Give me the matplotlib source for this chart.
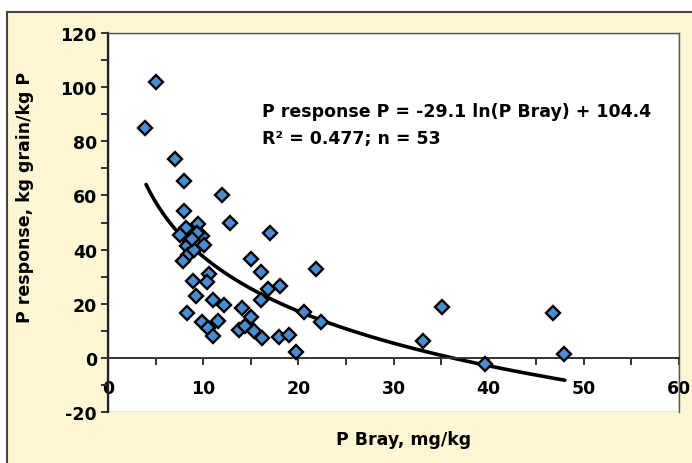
import numpy as np
import matplotlib
matplotlib.use("Agg")
import matplotlib.pyplot as plt
from matplotlib.patches import Rectangle
from matplotlib.lines import Line2D

plt.rcParams['font.family'] = ['DejaVu Sans']
plt.rcParams['axes.unicode_minus'] = False

# P Bray (mg/kg) and P response (kg grain/kg P)
p_bray = [3.9, 5.0, 7.0, 8.0, 12.0, 8.0, 9.5, 12.8, 17.0, 8.2,
          7.6, 9.9, 8.6, 10.1, 8.3, 8.4, 7.9, 8.9, 10.6, 10.4,
          9.2, 8.3, 11.0, 12.2, 9.9, 10.5, 11.6, 11.0, 15.0, 16.1,
          16.8, 18.1, 16.1, 14.1, 15.0, 13.8, 14.4, 15.3, 16.2, 18.0,
          19.0, 19.8, 21.9, 20.6, 22.4, 35.1, 33.1, 39.6, 46.8, 47.9,
          9.3, 9.0, 8.8]
p_resp = [85.0, 102.0, 73.3, 65.5, 60.0, 54.2, 49.3, 50.0, 46.3, 48.0,
          45.3, 45.0, 43.0, 41.6, 41.5, 38.0, 35.6, 28.3, 30.8, 28.0,
          23.0, 16.5, 21.3, 19.7, 13.3, 11.2, 13.7, 8.0, 36.6, 31.8,
          25.6, 26.6, 21.3, 18.6, 15.0, 10.3, 11.9, 10.0, 7.4, 7.7,
          8.6, 2.2, 32.8, 17.0, 13.3, 18.9, 6.2, -2.2, 16.5, 1.5,
          46.0, 40.0, 44.0]

# fitted curve P = -29.1 ln(P Bray) + 104.4
fit_a, fit_b = -29.1, 104.4
fit_x = np.linspace(4, 48, 200)
fit_y = fit_a * np.log(fit_x) + fit_b

cream = '#FDF6D4'
fs = 12.5

fig = plt.figure(figsize=(6.92, 4.64), dpi=100)
fig.patch.set_facecolor('white')
fig.patches.append(Rectangle((7/692, 0), 1, 1 - 13/464, transform=fig.transFigure,
                             facecolor=cream, edgecolor='none', zorder=-2))
fig.lines.append(Line2D([7/692, 1], [1 - 13/464, 1 - 13/464], transform=fig.transFigure,
                        color='#444444', lw=1.5))
fig.lines.append(Line2D([7/692, 7/692], [0, 1 - 13/464], transform=fig.transFigure,
                        color='#444444', lw=1.5))

ax = fig.add_axes([108/692, 51/464, 571/692, 379/464])
ax.set_facecolor('white')

ax.plot(fit_x, fit_y, color='black', lw=2.6, solid_capstyle='round', zorder=2)
ax.plot(p_bray, p_resp, linestyle='none', marker='D', ms=7.6,
        mfc='#4A8CD0', mec='black', mew=1.7, zorder=3)

ax.set_xlim(0, 60)
ax.set_ylim(-20, 120)

# frame
for s in ['top', 'right']:
    ax.spines[s].set_color('#555555')
    ax.spines[s].set_linewidth(1.0)
ax.spines['left'].set_color('#222222')
ax.spines['left'].set_linewidth(1.6)
ax.spines['bottom'].set_position(('data', 0))
ax.spines['bottom'].set_color('#333333')
ax.spines['bottom'].set_linewidth(1.4)
ax.add_patch(Rectangle((0, 0), 1, 1, transform=ax.transAxes, fill=False,
                       edgecolor='#777777', lw=1.0, zorder=0))

ax.set_xticks(np.arange(0, 61, 10))
ax.set_xticks(np.arange(5, 60, 10), minor=True)
ax.set_yticks(np.arange(-20, 121, 20))
ax.set_yticks(np.arange(-10, 120, 20), minor=True)
ax.tick_params(axis='x', which='both', direction='out', length=5, width=1.4,
               color='#333333', labelsize=fs, pad=10)
ax.tick_params(axis='y', which='both', direction='out', length=5, width=1.4,
               color='#333333', labelsize=fs, pad=3)
for lab in ax.get_xticklabels() + ax.get_yticklabels():
    lab.set_fontweight('bold')

ax.set_xlabel('P Bray, mg/kg', fontsize=fs, fontweight='bold')
ax.set_ylabel('P response, kg grain/kg P', fontsize=fs, fontweight='bold')
ax.xaxis.set_label_coords(0.518, -0.071)
ax.xaxis.label.set_va('center')
ax.yaxis.set_label_coords(-0.145, 0.569)
ax.yaxis.label.set_va('center')

ax.text(16.2, 91.3, 'P response P = -29.1 ln(P Bray) + 104.4', fontsize=fs,
        fontweight='bold', va='center', ha='left')
ax.text(16.2, 81.3, 'R² = 0.477; n = 53', fontsize=fs,
        fontweight='bold', va='center', ha='left')

fig.savefig('out.png', dpi=100, facecolor=fig.get_facecolor())
